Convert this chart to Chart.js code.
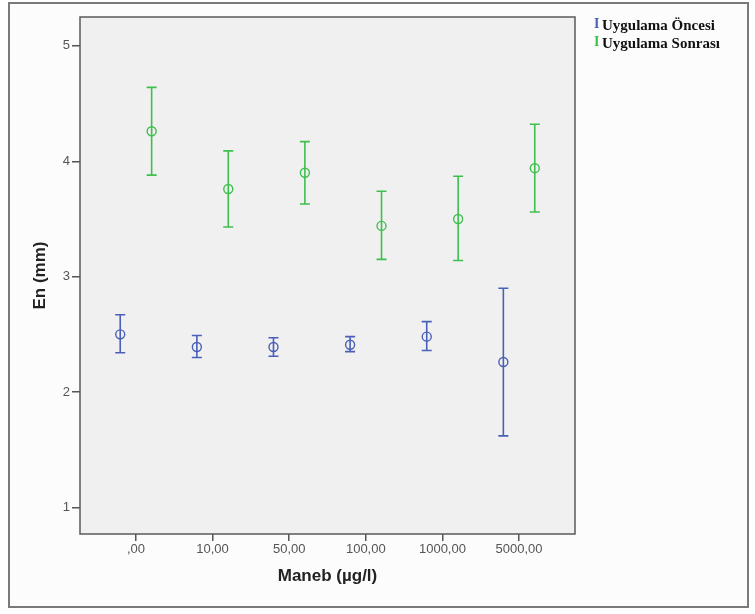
<!DOCTYPE html>
<html>
<head>
<meta charset="utf-8">
<script src="https://cdn.jsdelivr.net/npm/chart.js@4.4.0/dist/chart.umd.min.js"></script>
<style>
  html, body { margin: 0; padding: 0; background: #ffffff; }
  #wrap { position: relative; width: 755px; height: 614px; overflow: hidden; }
  #frame { position: absolute; left: 8px; top: 2px; width: 737px; height: 602px; border: 2px solid #7a7a7a; background: #fcfcfc; }
  canvas { position: absolute; left: 0; top: 0; }
  .leg { position: absolute; left: 594px; height: 18px; line-height: 18px; font-family: "Liberation Serif", "Times New Roman", serif; font-weight: bold; font-size: 15px; color: #111; white-space: nowrap; }
  .leg .sym { display: inline-block; width: 8px; font-size: 14px; vertical-align: top; line-height: 15px; }
</style>
</head>
<body>
<div id="wrap">
  <div id="frame"></div>
  <canvas id="c" width="755" height="614"></canvas>
  <div class="leg" style="top:16px"><span class="sym" style="color:#4a5fb8">I</span>Uygulama Öncesi</div>
  <div class="leg" style="top:34px"><span class="sym" style="color:#3fbf4e">I</span>Uygulama Sonrası</div>
</div>
<script>
const categories = [",00", "10,00", "50,00", "100,00", "1000,00", "5000,00"];
const yTicks = [1, 2, 3, 4, 5];

const onceMean = [2.50, 2.39, 2.39, 2.41, 2.48, 2.26];
const onceLow  = [2.34, 2.30, 2.31, 2.35, 2.36, 1.62];
const onceHigh = [2.67, 2.49, 2.47, 2.48, 2.61, 2.90];

const sonraMean = [4.26, 3.76, 3.90, 3.44, 3.50, 3.94];
const sonraLow  = [3.88, 3.43, 3.63, 3.15, 3.14, 3.56];
const sonraHigh = [4.64, 4.09, 4.17, 3.74, 3.87, 4.32];

const seriesNames = ["Uygulama Öncesi", "Uygulama Sonrası"];

const blue = "#4a5fb8";
const green = "#3fbf4e";
const shift = 0.205;

function build(mean, low, high, dx) {
  return mean.map((m, i) => ({ x: i + dx, y: m, lo: low[i], hi: high[i] }));
}

const errorBars = {
  id: "errorBars",
  beforeDatasetsDraw(chart) {
    const { ctx, chartArea: a } = chart;
    ctx.save();
    ctx.fillStyle = "#f0f0f0";
    ctx.fillRect(a.left, a.top, a.right - a.left, a.bottom - a.top);
    ctx.restore();
  },
  afterDatasetsDraw(chart) {
    const { ctx, scales: { x, y }, chartArea: a } = chart;
    ctx.save();
    chart.data.datasets.forEach(ds => {
      ctx.strokeStyle = ds.borderColor;
      ctx.lineWidth = 1.6;
      ds.data.forEach(p => {
        const px = x.getPixelForValue(p.x);
        const yl = y.getPixelForValue(p.lo);
        const yh = y.getPixelForValue(p.hi);
        ctx.beginPath();
        ctx.moveTo(px, yl); ctx.lineTo(px, yh);
        ctx.moveTo(px - 5, yl); ctx.lineTo(px + 5, yl);
        ctx.moveTo(px - 5, yh); ctx.lineTo(px + 5, yh);
        ctx.stroke();
      });
    });
    ctx.strokeStyle = "#5a5a5a";
    ctx.lineWidth = 1.5;
    ctx.strokeRect(a.left, a.top, a.right - a.left, a.bottom - a.top);
    ctx.restore();
  }
};

new Chart(document.getElementById("c"), {
  type: "scatter",
  data: {
    datasets: [
      { label: seriesNames[0], data: build(onceMean, onceLow, onceHigh, -shift),
        borderColor: blue, backgroundColor: "rgba(0,0,0,0)", pointRadius: 4.5, pointBorderWidth: 1.4, showLine: false },
      { label: seriesNames[1], data: build(sonraMean, sonraLow, sonraHigh, shift),
        borderColor: green, backgroundColor: "rgba(0,0,0,0)", pointRadius: 4.5, pointBorderWidth: 1.4, showLine: false }
    ]
  },
  options: {
    responsive: false,
    animation: false,
    layout: { padding: { top: 17, right: 180, left: 0, bottom: 0 } },
    plugins: { legend: { display: false }, tooltip: { enabled: false } },
    scales: {
      x: {
        type: "linear",
        min: -0.73, max: 5.73,
        afterBuildTicks: s => { s.ticks = categories.map((c, i) => ({ value: i })); },
        afterFit: s => { s.height = 80; },
        ticks: { callback: v => categories[v], color: "#555", font: { family: "Liberation Sans", size: 13 }, padding: 1, maxRotation: 0 },
        grid: { display: true, drawOnChartArea: false, drawTicks: true, tickLength: 7, color: "#555", lineWidth: 1.5 },
        border: { display: false },
        title: { display: true, text: "Maneb (µg/l)", color: "#222", font: { family: "Liberation Sans", size: 17, weight: "bold" }, padding: { top: 0, bottom: 27 } }
      },
      y: {
        min: 0.77, max: 5.25,
        afterBuildTicks: s => { s.ticks = yTicks.map(v => ({ value: v })); },
        afterFit: s => { s.width = 80; },
        ticks: { color: "#555", font: { family: "Liberation Sans", size: 13 }, padding: 2 },
        grid: { display: true, drawOnChartArea: false, drawTicks: true, tickLength: 8, color: "#555", lineWidth: 1.5 },
        border: { display: false },
        title: { display: true, text: "En (mm)", color: "#222", font: { family: "Liberation Sans", size: 17, weight: "bold" }, padding: { top: 30, bottom: 0 } }
      }
    }
  },
  plugins: [errorBars]
});
</script>
</body>
</html>
